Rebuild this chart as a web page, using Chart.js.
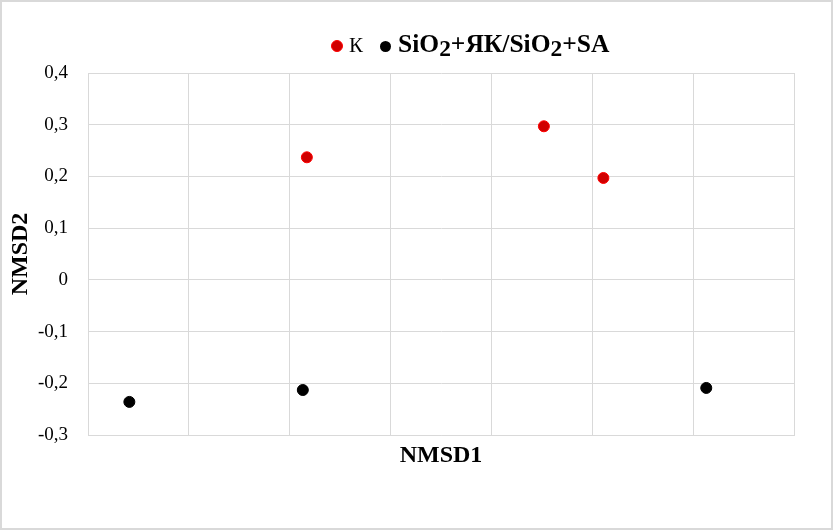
<!DOCTYPE html>
<html>
<head>
<meta charset="utf-8">
<script src="https://cdn.jsdelivr.net/npm/chart.js@4"></script>
<style>
  body { margin: 0; background: #fff; }
  #wrap { position: relative; width: 833px; height: 530px; }
  #frame { position: absolute; left: 0; top: 0; width: 829px; height: 526px; border: 2px solid #d9d9d9; pointer-events: none; }
  #legend { position: absolute; left: 331px; top: 29px; height: 30px; display: flex; align-items: baseline;
            font-family: 'Liberation Serif', 'Times New Roman', serif; color: #000; white-space: nowrap; }
  #legend .dot { display: inline-block; width: 11px; height: 11px; border-radius: 50%; position: relative; top: 0px; }
  #legend .k { font-size: 21px; margin-left: 6px; margin-right: 17px; }
  #legend b { font-size: 25.5px; font-weight: bold; margin-left: 7px; }
  #legend .sub { font-size: 92%; position: relative; top: 4px; }
</style>
</head>
<body>
<div id="wrap">
  <canvas id="chart" width="833" height="530"></canvas>
  <div id="legend">
    <span class="dot" style="background:#d00000;border:1px solid #ff0000;width:10px;height:10px"></span><span class="k">К</span>
    <span class="dot" style="background:#000"></span><b>SiO<span class="sub">2</span>+ЯК/SiO<span class="sub">2</span>+SA</b>
  </div>
  <div id="frame"></div>
</div>
<script>
// series values (NMSD1, NMSD2)
const kX = [2.17, 4.52, 5.11];
const kY = [0.237, 0.297, 0.197];
const silX = [0.41, 2.13, 6.13];
const silY = [-0.236, -0.213, -0.209];

const yTicks = [-0.3, -0.2, -0.1, 0, 0.1, 0.2, 0.3, 0.4];

const toPoints = (xs, ys) => xs.map((x, i) => ({ x: x, y: ys[i] }));

const fmt = (v) => {
  if (Math.abs(v) < 1e-9) return '0';
  return v.toFixed(1).replace('.', ',');
};

const ctx = document.getElementById('chart').getContext('2d');

new Chart(ctx, {
  type: 'scatter',
  data: {
    datasets: [
      {
        label: 'К',
        data: toPoints(kX, kY),
        backgroundColor: '#d00000',
        borderColor: '#ff0000',
        borderWidth: 1,
        pointRadius: 5.5,
        pointHoverRadius: 5.5
      },
      {
        label: 'SiO2+ЯК/SiO2+SA',
        data: toPoints(silX, silY),
        backgroundColor: '#000000',
        borderColor: '#000000',
        borderWidth: 1,
        pointRadius: 5.5,
        pointHoverRadius: 5.5
      }
    ]
  },
  options: {
    responsive: false,
    animation: false,
    layout: {
      padding: { top: 73, right: 39, left: 0, bottom: 0 }
    },
    plugins: {
      legend: { display: false },
      tooltip: { enabled: false }
    },
    scales: {
      x: {
        type: 'linear',
        min: 0,
        max: 7,
        ticks: { stepSize: 1, display: false },
        grid: { color: '#d9d9d9', lineWidth: 1, drawTicks: false },
        border: { color: '#d9d9d9' },
        title: {
          display: true,
          text: 'NMSD1',
          color: '#000',
          font: { family: 'Liberation Serif', size: 24, weight: 'bold' },
          padding: { top: 0, bottom: 60 }
        },
        afterFit: (scale) => { scale.height = 95; }
      },
      y: {
        min: -0.3,
        max: 0.4,
        afterBuildTicks: (scale) => { scale.ticks = yTicks.map(v => ({ value: v })); },
        ticks: {
          color: '#000',
          padding: 20,
          font: { family: 'Liberation Serif', size: 19 },
          callback: (v) => fmt(v)
        },
        grid: { color: '#d9d9d9', lineWidth: 1, drawTicks: false },
        border: { color: '#d9d9d9' },
        title: {
          display: true,
          text: 'NMSD2',
          color: '#000',
          font: { family: 'Liberation Serif', size: 24, weight: 'bold' },
          padding: { top: 6, bottom: 0 }
        },
        afterFit: (scale) => { scale.width = 88; }
      }
    }
  }
});
</script>
</body>
</html>
